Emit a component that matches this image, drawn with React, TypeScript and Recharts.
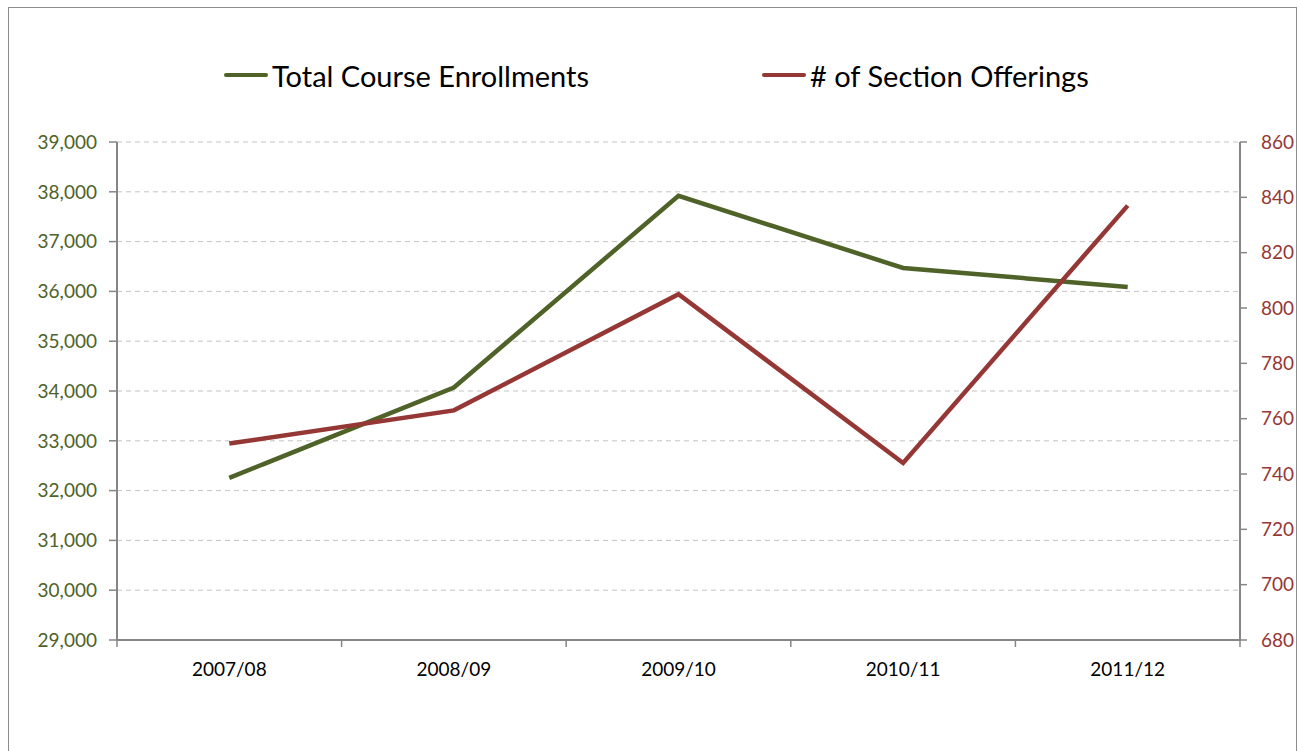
import React from 'react';
import { LineChart, Line, XAxis, YAxis, CartesianGrid, Legend } from 'recharts';

const categories = ['2007/08', '2008/09', '2009/10', '2010/11', '2011/12'];
const enrollments = [32255, 34070, 37920, 36470, 36090];
const sections = [751, 763, 805, 744, 837];
const enrollmentTicks = [29000, 30000, 31000, 32000, 33000, 34000, 35000, 36000, 37000, 38000, 39000];
const sectionTicks = [680, 700, 720, 740, 760, 780, 800, 820, 840, 860];
const seriesNames = ['Total Course Enrollments', '# of Section Offerings'];

const data = categories.map((c, i) => ({
  year: c,
  enrollments: enrollments[i],
  sections: sections[i],
}));

const FONT = 'Lato, "Open Sans", sans-serif';
const GREEN = '#4F6228';
const RED = '#953735';
const AXIS = '#868686';

const fmt = (v: number) => v.toLocaleString('en-US');

function CategoryTick(props: any) {
  const { x, y, payload, index, visibleTicksCount, width } = props;
  const band = width && visibleTicksCount ? width / visibleTicksCount : (payload.offset || 0) * 2;
  const half = band / 2;
  return (
    <g>
      <line x1={x - half} x2={x - half} y1={y} y2={y + 7} stroke={AXIS} strokeWidth={1.5} />
      {index === visibleTicksCount - 1 && (
        <line x1={x + half} x2={x + half} y1={y} y2={y + 7} stroke={AXIS} strokeWidth={1.5} />
      )}
      <text x={x} y={y + 36} textAnchor="middle" fill="#000" fontSize={19} fontFamily={FONT}>
        {payload.value}
      </text>
    </g>
  );
}

const renderLegend = () => (
  <div style={{ height: 125, position: 'relative' }}>
    <div
      style={{
        position: 'absolute',
        top: 43,
        left: 0,
        right: 0,
        height: 30,
        display: 'flex',
        justifyContent: 'center',
        alignItems: 'center',
        paddingLeft: 9,
        fontFamily: FONT,
        fontSize: 29,
        color: '#000',
      }}
    >
      {[GREEN, RED].map((col, i) => (
        <div key={i} style={{ display: 'flex', alignItems: 'center', width: i === 0 ? 538 : 328 }}>
          <div style={{ width: 44, height: 4, background: col, borderRadius: 2, marginRight: 4 }} />
          <span style={{ whiteSpace: 'nowrap' }}>{seriesNames[i]}</span>
        </div>
      ))}
    </div>
  </div>
);

export default function App() {
  return (
    <div
      style={{
        position: 'fixed',
        top: 7,
        left: 8,
        width: 1289,
        height: 760,
        border: '1px solid #8c8c8c',
        boxSizing: 'border-box',
        background: '#fff',
      }}
    >
      <LineChart width={1287} height={758} data={data} margin={{ top: 9, right: 0, left: 0, bottom: 66 }}>
        <Legend verticalAlign="top" align="center" content={renderLegend} />
        <CartesianGrid yAxisId="left" vertical={false} stroke="#c4c4c4" strokeDasharray="5 4" />
        <XAxis
          dataKey="year"
          scale="band"
          height={60}
          axisLine={{ stroke: AXIS, strokeWidth: 2 }}
          tickLine={false}
          tickSize={0}
          tickMargin={0}
          tick={<CategoryTick />}
          interval={0}
        />
        <YAxis
          yAxisId="left"
          orientation="left"
          width={108}
          domain={[29000, 39000]}
          ticks={enrollmentTicks}
          interval={0}
          tickFormatter={fmt}
          axisLine={{ stroke: AXIS, strokeWidth: 2 }}
          tickLine={{ stroke: AXIS, strokeWidth: 1.5 }}
          tickSize={8}
          tickMargin={12}
          tick={{ fill: GREEN, fontSize: 19, fontFamily: FONT }}
        />
        <YAxis
          yAxisId="right"
          orientation="right"
          width={56}
          domain={[680, 860]}
          ticks={sectionTicks}
          interval={0}
          axisLine={{ stroke: AXIS, strokeWidth: 2 }}
          tickLine={{ stroke: AXIS, strokeWidth: 1.5 }}
          tickSize={7}
          tickMargin={14}
          tick={{ fill: RED, fontSize: 19, fontFamily: FONT, textAnchor: 'start' }}
        />
        <Line
          yAxisId="left"
          type="linear"
          dataKey="enrollments"
          name={seriesNames[0]}
          stroke={GREEN}
          strokeWidth={4.5}
          dot={false}
          activeDot={false}
          isAnimationActive={false}
        />
        <Line
          yAxisId="right"
          type="linear"
          dataKey="sections"
          name={seriesNames[1]}
          stroke={RED}
          strokeWidth={4.5}
          dot={false}
          activeDot={false}
          isAnimationActive={false}
        />
      </LineChart>
    </div>
  );
}
